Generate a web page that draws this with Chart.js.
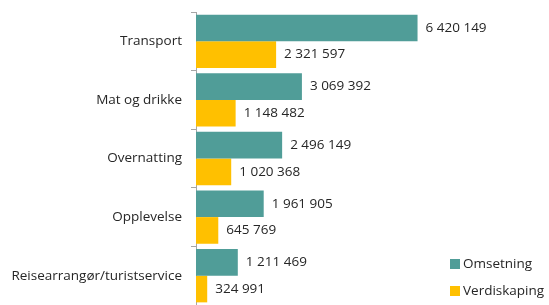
<!DOCTYPE html>
<html>
<head>
<meta charset="utf-8">
<script src="https://cdn.jsdelivr.net/npm/chart.js@4"></script>
<style>
  html,body{margin:0;padding:0;background:#fff;}
  #wrap{position:relative;width:549px;height:305px;}
  #legend{position:absolute;left:450px;top:255px;font:13.5px "Open Sans",sans-serif;color:#262626;}
  #legend div{height:27px;line-height:16px;white-space:nowrap;}
  #legend span{display:inline-block;width:10px;height:10px;margin-right:3px;vertical-align:-1px;}
</style>
</head>
<body>
<div id="wrap">
  <canvas id="chart" width="549" height="305"></canvas>
  <div id="legend"></div>
</div>
<script>
/* ================= Data ================= */
const categories = ['Transport', 'Mat og drikke', 'Overnatting', 'Opplevelse', 'Reisearrangør/turistservice'];
const omsetning = [6420149, 3069392, 2496149, 1961905, 1211469];
const verdiskaping = [2321597, 1148482, 1020368, 645769, 324991];
const seriesNames = ['Omsetning', 'Verdiskaping'];
const seriesColors = ['#509D98', '#FFC000'];

function fmt(v){
  return v.toString().replace(/\B(?=(\d{3})+(?!\d))/g, ' ');
}

/* ================= Value labels ================= */
const valueLabels = {
  id: 'valueLabels',
  afterDatasetsDraw(chart){
    const c = chart.ctx;
    c.save();
    c.font = '13.5px "Open Sans", sans-serif';
    c.fillStyle = '#262626';
    c.textBaseline = 'middle';
    c.textAlign = 'left';
    chart.data.datasets.forEach((ds, i) => {
      chart.getDatasetMeta(i).data.forEach((bar, j) => {
        c.fillText(fmt(ds.data[j]), bar.x + 8, bar.y);
      });
    });
    c.restore();
  }
};

/* ================= Chart ================= */
const ctx = document.getElementById('chart');

new Chart(ctx, {
  type: 'bar',
  data: {
    labels: categories,
    datasets: [
      { label: seriesNames[0], data: omsetning, backgroundColor: seriesColors[0] },
      { label: seriesNames[1], data: verdiskaping, backgroundColor: seriesColors[1] }
    ]
  },
  options: {
    indexAxis: 'y',
    responsive: false,
    animation: false,
    layout: { padding: { top: 12, right: 108, bottom: -2, left: 0 } },
    datasets: { bar: { categoryPercentage: 0.91, barPercentage: 1 } },
    plugins: { legend: { display: false }, tooltip: { enabled: false } },
    scales: {
      x: { display: false, min: 0, max: 7100000 },
      y: {
        afterFit(s){ s.width = 196; s.paddingTop = 0; s.paddingBottom = 0; },
        grid: { drawOnChartArea: false, tickLength: 5, color: '#a6a6a6', offset: true },
        border: { color: '#a6a6a6' },
        ticks: { padding: 9, color: '#262626', font: { family: '"Open Sans", sans-serif', size: 13.5 } }
      }
    }
  },
  plugins: [valueLabels]
});

/* ================= Legend ================= */
document.getElementById('legend').innerHTML = seriesNames.map((n, i) =>
  `<div><span style="background:${seriesColors[i]}"></span>${n}</div>`).join('');
</script>
</body>
</html>
